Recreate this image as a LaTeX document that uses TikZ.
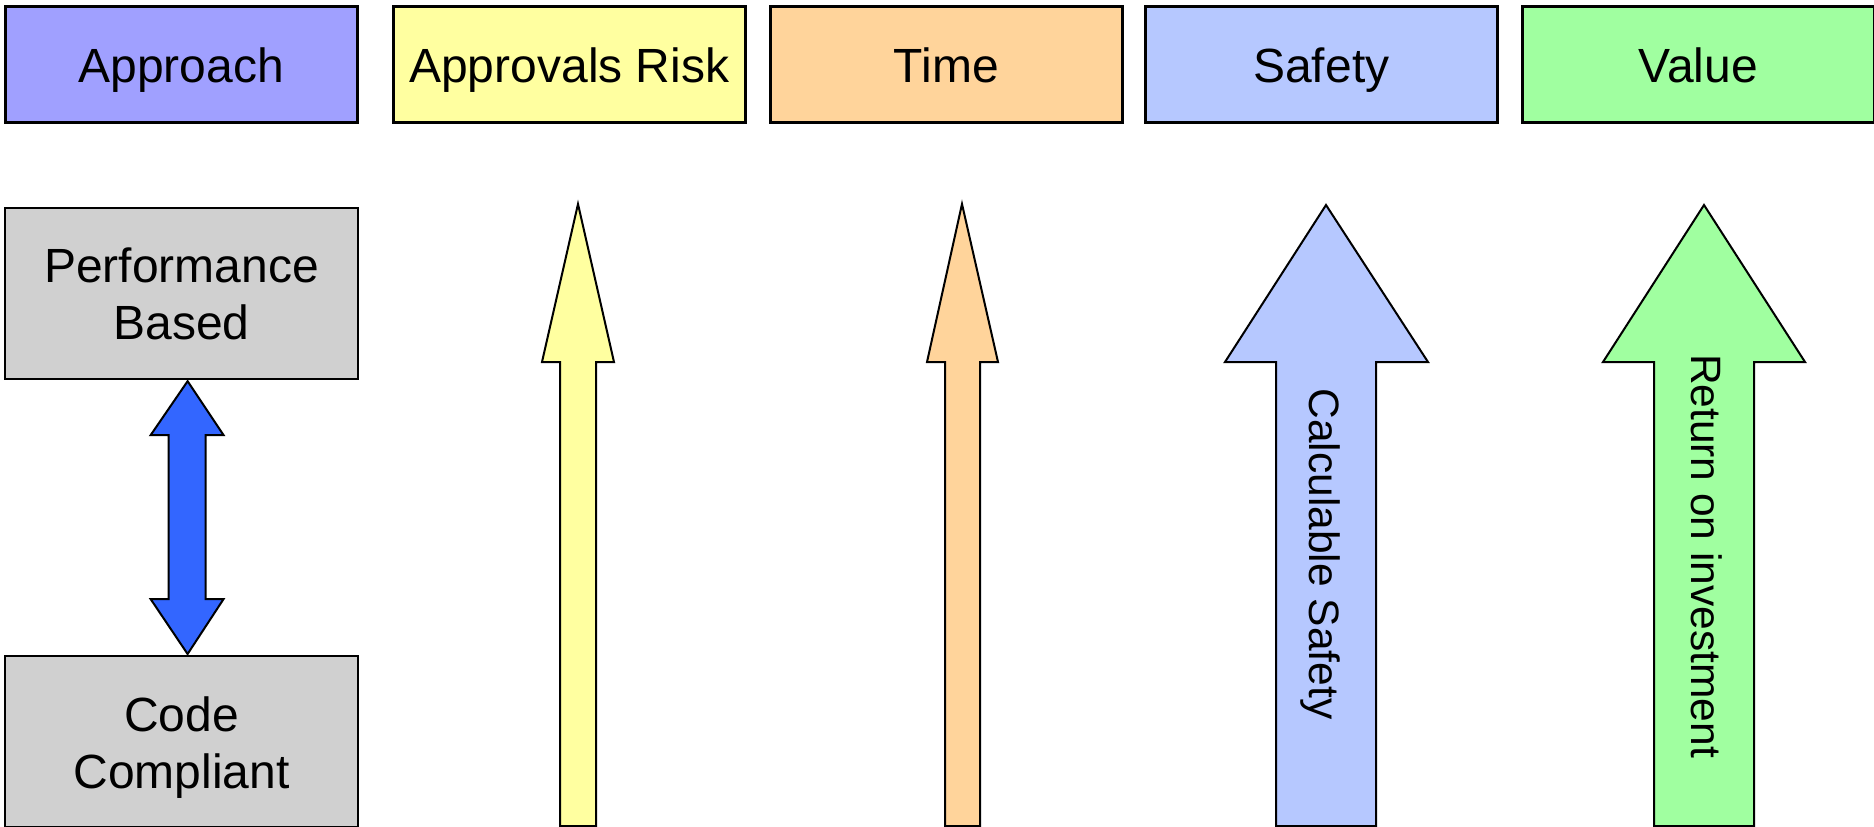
\documentclass[tikz,border=0pt]{standalone}
\usepackage{fontspec}
\setmainfont{Liberation Sans}
\usetikzlibrary{calc}
\definecolor{apprfill}{RGB}{160,160,255}
\definecolor{riskfill}{RGB}{255,255,160}
\definecolor{timefill}{RGB}{255,212,155}
\definecolor{safefill}{RGB}{182,200,255}
\definecolor{valfill}{RGB}{160,255,160}
\definecolor{greyfill}{RGB}{208,208,208}
\definecolor{linkblue}{RGB}{51,102,255}
\begin{document}
\begin{tikzpicture}[x=1pt,y=-1pt,
  header/.style={draw=black, line width=2.6pt, rectangle, inner sep=0pt,
    minimum width=352pt, minimum height=116pt, anchor=north west,
    font=\fontsize{48}{57}\selectfont, text height=36pt, text depth=0pt},
  approachbox/.style={draw=black, line width=2.2pt, rectangle, inner sep=0pt,
    minimum width=353pt, minimum height=171pt, anchor=north west, align=center,
    font=\fontsize{48}{57}\selectfont},
  blockarrow/.style={draw=black, line width=2pt, line join=miter},
  sidelabel/.style={rotate=-90, anchor=base, inner sep=0pt,
    font=\fontsize{42.5}{50}\selectfont}]
\useasboundingbox (0,0) rectangle (1874,827);

% column headers
\node[header, fill=apprfill] (hApproach) at (4,5) {Approach};
\node[header, fill=riskfill] (hRisk) at (392,5) {Approvals Risk};
\node[header, fill=timefill] (hTime) at (769,5) {Time};
\node[header, fill=safefill] (hSafety) at (1144,5) {Safety};
\node[header, fill=valfill] (hValue) at (1521,5) {Value};

% approach spectrum
\node[approachbox, fill=greyfill] (pb) at (4,207) {Performance\\Based};
\node[approachbox, fill=greyfill] (cc) at (4,655) {\rule{0pt}{47pt}Code\\Compliant};

% two-way link between the approaches
\coordinate (ltop) at ($(pb.south)+(6,1)$);
\coordinate (lbot) at ($(cc.north)+(6,-1)$);
\fill[linkblue, draw=black, line width=2pt, line join=miter]
  (ltop) -- ++(36,54) -- ++(-18,0) -- ($(lbot)+(18,-55)$) -- ++(18,0)
  -- (lbot) -- ++(-37,-55) -- ++(18,0) -- ($(ltop)+(-19,54)$) -- ++(-18,0) -- cycle;

% approvals risk arrow
\filldraw[blockarrow, fill=riskfill]
  (578,204) -- (614,362) -- (596,362) -- (596,826) -- (560,826) -- (560,362) -- (542,362) -- cycle;

% time arrow
\filldraw[blockarrow, fill=timefill]
  (962,204) -- (998,362) -- (980,362) -- (980,826) -- (945,826) -- (945,362) -- (927,362) -- cycle;

% safety arrow
\filldraw[blockarrow, fill=safefill]
  (1326,205) -- (1428,362) -- (1376,362) -- (1376,826) -- (1276,826) -- (1276,362) -- (1225,362) -- cycle;
\node[sidelabel] (calcsafe) at (1309,554) {Calculable Safety};

% value arrow
\filldraw[blockarrow, fill=valfill]
  (1704,205) -- (1805,362) -- (1754,362) -- (1754,826) -- (1654,826) -- (1654,362) -- (1603,362) -- cycle;
\node[sidelabel] (roi) at (1691,556) {Return on investment};
\end{tikzpicture}
\end{document}
